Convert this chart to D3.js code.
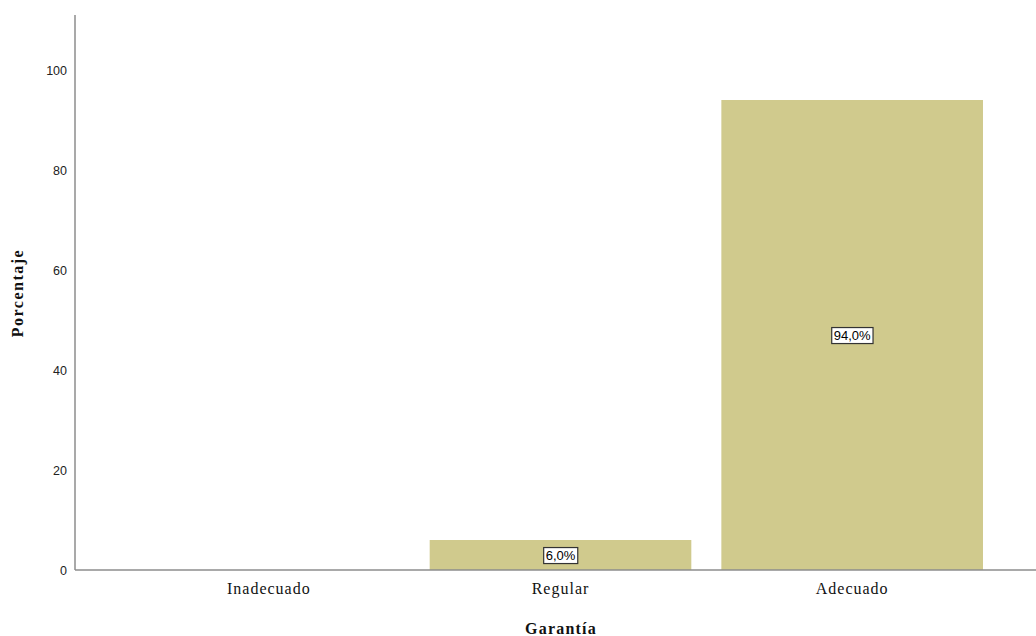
<!DOCTYPE html>
<html><head><meta charset="utf-8">
<script src="https://cdn.jsdelivr.net/npm/d3@7"></script>
<style>body{margin:0;background:#fff}svg{display:block}</style>
</head><body><svg id="c" width="1036" height="636"></svg>
<script>
const categories = ["Inadecuado", "Regular", "Adecuado"];
const values = [0, 6.0, 94.0];
const yTicks = [0, 20, 40, 60, 80, 100];
const xTitle = "Garantía";
const yTitle = "Porcentaje";

const svg = d3.select("#c");
const x = d3.scaleBand().domain(categories).range([123, 998]).paddingInner(0.103).paddingOuter(0.0515);
const y = d3.scaleLinear().domain([0, 111]).range([570, 15]);
const loc = d3.formatLocale({decimal: ",", thousands: ".", grouping: [3], currency: ["", "%"]});
const fmt = v => loc.format(".1f")(v) + "%";

// bars
svg.append("g").selectAll("rect").data(values.map((v,i)=>({c:categories[i], v})).filter(d=>d.v>0))
  .join("rect")
  .attr("x", d => x(d.c)).attr("width", x.bandwidth())
  .attr("y", d => y(d.v)).attr("height", d => y(0) - y(d.v))
  .attr("fill", "#d0ca8d");

// axes
svg.append("line").attr("x1", 75).attr("x2", 75).attr("y1", y.range()[1]).attr("y2", y(0))
  .attr("stroke", "#8c8c8c").attr("stroke-width", 1.5);
svg.append("line").attr("x1", 75).attr("x2", 1036).attr("y1", y(0)).attr("y2", y(0))
  .attr("stroke", "#8c8c8c").attr("stroke-width", 1.5);

const yAxis = d3.axisLeft(y).tickValues(yTicks).tickSize(0).tickPadding(8);
const gy = svg.append("g").attr("transform", "translate(75,0)").call(yAxis);
gy.select(".domain").remove();
gy.selectAll("text").attr("font-family", "Liberation Sans, Arial, sans-serif").attr("font-size", 12.5).attr("fill", "#222");

const xAxis = d3.axisBottom(x).tickSize(0).tickPadding(13);
const gx = svg.append("g").attr("transform", `translate(0,${y(0)})`).call(xAxis);
gx.select(".domain").remove();
gx.selectAll("text").attr("font-family", "Liberation Serif, Times New Roman, serif").attr("font-size", 16)
  .attr("letter-spacing", 1).attr("fill", "#111");

// value labels
const lab = svg.append("g").selectAll("g").data(values.map((v,i)=>({c:categories[i], v})).filter(d=>d.v>0))
  .join("g").attr("transform", d => `translate(${x(d.c)+x.bandwidth()/2},${y(d.v/2)})`);
lab.append("text").attr("text-anchor", "middle").attr("dy", "0.35em")
  .attr("font-family", "Liberation Sans, Arial, sans-serif").attr("font-size", 13).attr("fill", "#000")
  .text(d => fmt(d.v));
lab.each(function(){
  const g = d3.select(this); const b = g.select("text").node().getBBox();
  g.insert("rect", "text").attr("x", b.x - 2).attr("y", b.y).attr("width", b.width + 4).attr("height", b.height + 1)
    .attr("fill", "#fff").attr("stroke", "#333").attr("stroke-width", 1.2);
});

// titles
svg.append("text").attr("x", 561).attr("y", 634).attr("text-anchor", "middle")
  .attr("font-family", "Liberation Serif, Times New Roman, serif").attr("font-weight", "bold").attr("font-size", 16)
  .attr("letter-spacing", 1.2).attr("fill", "#111")
  .text(xTitle);
svg.append("text").attr("transform", "translate(23,293) rotate(-90)").attr("text-anchor", "middle")
  .attr("font-family", "Liberation Serif, Times New Roman, serif").attr("font-weight", "bold").attr("font-size", 16)
  .attr("letter-spacing", 1.5).attr("fill", "#111")
  .text(yTitle);
</script></body></html>
